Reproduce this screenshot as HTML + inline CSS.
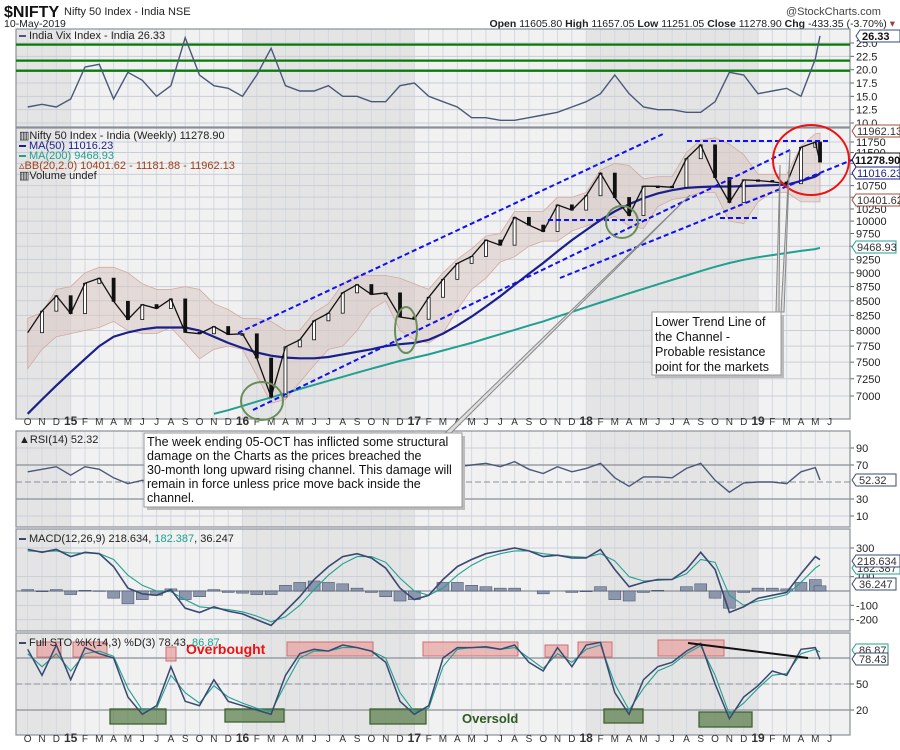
<!DOCTYPE html>
<html><head><meta charset="utf-8"><title>NIFTY chart</title>
<style>
html,body{margin:0;padding:0;background:#fff;}
svg{display:block;font-family:"Liberation Sans Narrow","Liberation Sans",sans-serif;}
</style></head>
<body>
<svg id="chart" width="900" height="750" viewBox="0 0 900 750" xmlns="http://www.w3.org/2000/svg">
<rect x="0" y="0" width="900" height="750" fill="#fff"/>
<text x="4" y="17" font-size="16" font-weight="bold" fill="#111">$NIFTY</text>
<text x="64" y="15" font-size="11" fill="#222">Nifty 50 Index - India NSE</text>
<text x="4" y="27" font-size="10.5" fill="#222">10-May-2019</text>
<text x="786" y="15" font-size="11" fill="#444">@StockCharts.com</text>
<text x="895" y="27" font-size="10.5" fill="#222" text-anchor="end"><tspan font-weight="bold">Open</tspan> 11605.80 <tspan font-weight="bold">High</tspan> 11657.05 <tspan font-weight="bold">Low</tspan> 11251.05 <tspan font-weight="bold">Close</tspan> 11278.90 <tspan font-weight="bold">Chg</tspan> -433.35 (-3.70%) <tspan fill="#a04040">▾</tspan></text>
<g id="layers"></g>
</svg>
<script>
// ---- data (monthly, Sep-2014 .. May-2019) ----
const monthIdx = [0,1,2,3,4,5,6,7,8,9,10,11,12,13,14,15,16,17,18,19,20,21,22,23,24,25,26,27,28,29,30,31,32,33,34,35,36,37,38,39,40,41,42,43,44,45,46,47,48,49,50,51,52,53,54,55,55.33];
const closeVals = [7965,8322,8588,8282,8808,8901,8491,8181,8434,8368,8532,7971,7948,8065,7935,7946,7563,6987,7738,7850,8160,8288,8639,8786,8611,8638,8224,8186,8561,8880,9174,9304,9621,9521,10077,9918,9789,10335,10227,10531,11028,10493,10114,10739,10736,10714,11357,11681,10930,10387,10877,10863,10831,10793,11624,11748,11279];
const ma50Vals = [6750,6950,7150,7350,7550,7750,7900,7970,8020,8050,8050,8050,8000,7900,7800,7720,7650,7600,7570,7560,7560,7580,7620,7660,7700,7750,7780,7800,7850,7950,8080,8230,8400,8580,8780,8980,9180,9400,9620,9820,10020,10200,10350,10480,10580,10650,10700,10720,10730,10730,10740,10750,10760,10770,10850,10950,11016];
const ma200Vals = [null,null,null,null,null,null,null,null,null,null,null,null,null,6750,6800,6860,6920,6980,7040,7100,7160,7220,7280,7340,7400,7460,7520,7570,7620,7680,7740,7800,7870,7940,8010,8080,8150,8230,8310,8390,8470,8550,8630,8710,8790,8870,8950,9030,9110,9180,9240,9290,9330,9370,9410,9445,9469];
const bbUpper = [8200,8300,8700,8750,9000,9100,9100,9000,8800,8700,8700,8750,8700,8450,8350,8200,8200,8150,8000,8000,8300,8450,8800,8950,8950,8950,8900,8800,8700,9000,9250,9450,9700,9750,10200,10200,10200,10500,10500,10600,11100,11250,11200,10900,10950,10950,11500,11800,11850,11700,11450,11000,11000,11000,11650,11950,11962];
const bbLower = [7400,7700,7900,7950,8000,8050,8150,8000,7950,7950,8050,7800,7550,7700,7750,7700,7300,6900,6950,7200,7450,7700,7750,8000,8350,8500,8000,7850,7800,7950,8350,8700,8900,9200,9300,9500,9600,9600,9800,9900,10000,10100,9900,9850,10300,10450,10500,10600,10600,10000,9950,10400,10600,10600,10400,10400,10401];
const vixVals = [13,13.5,13,14.5,20.5,21,14.5,19.5,18,15,17,26,19,17,16.5,15,19,24,17,16,16,17,15,15,14,14,17,17.5,15,14,13,11,11,10.5,10.5,11,11.5,12,13,14,15.5,19,15.5,13,12.5,12.5,12,12,14,19.5,19,15.5,16,16.5,15,22,26.33];
const rsiVals = [62,65,68,58,68,65,55,48,52,50,55,40,42,48,45,45,38,30,52,55,60,62,68,70,62,62,45,42,55,62,68,70,72,68,74,65,60,68,62,66,72,55,45,56,56,55,66,72,52,38,49,50,50,48,62,67,52.32];
const macdVals = [290,270,290,240,270,260,170,20,-20,-30,10,-120,-150,-110,-140,-160,-200,-240,-140,-40,80,170,240,260,230,160,20,-60,-30,80,170,220,260,280,300,280,240,250,230,230,290,150,30,60,80,80,150,270,150,-150,-110,-50,-30,-10,120,240,218.6];
const signalVals = [280,275,280,265,265,262,220,110,40,0,-5,-60,-110,-120,-130,-145,-175,-215,-180,-100,10,110,190,240,240,200,90,0,-30,20,110,180,230,260,280,280,260,250,240,235,260,210,100,70,75,80,120,220,200,-30,-100,-70,-50,-25,60,160,182.4];
const histVals = [10,-5,10,-25,5,-2,-50,-90,-60,-30,15,-60,-40,10,-10,-15,-25,-25,40,60,70,60,50,20,-10,-40,-70,-60,0,60,60,40,30,20,20,0,-20,0,-10,-5,30,-60,-70,-10,5,0,30,50,-50,-120,-10,20,20,15,60,80,36];
const stoK = [90,60,95,55,92,85,80,35,15,25,70,30,25,55,30,25,20,15,60,85,90,88,95,92,88,75,30,15,25,80,92,92,93,90,95,75,65,92,70,95,98,40,15,55,70,75,88,97,50,10,35,48,65,60,90,92,78.43];
const stoD = [85,70,85,65,85,88,82,45,20,22,60,40,28,48,35,28,22,18,50,80,88,88,92,92,88,80,40,18,22,70,90,92,92,90,92,80,68,85,75,90,95,50,20,45,65,72,85,94,60,15,28,45,60,62,85,90,86.87];
const monthLabels = ["O","N","D","15","F","M","A","M","J","J","A","S","O","N","D","16","F","M","A","M","J","J","A","S","O","N","D","17","F","M","A","M","J","J","A","S","O","N","D","18","F","M","A","M","J","J","A","S","O","N","D","19","F","M","A","M","J"];
const vixTicks = [10,12.5,15,17.5,20,22.5,25];
const priceTicks = [7000,7250,7500,7750,8000,8250,8500,8750,9000,9250,9500,9750,10000,10250,10500,10750,11000,11250,11500,11750];
const rsiTicks = [10,30,70,90];
const macdTicks = [-200,-100,0,100,300];
const stoTicks = [20,50];
const vixLevels = [24.7,21.7,19.8];

// ---- geometry ----
const L = 16, R = 850;
const NS = "http://www.w3.org/2000/svg";
const root = document.getElementById('layers');
function xM(m){ return 27.7 + m*14.32; }
function xD(i){ return xM(monthIdx[i]); }
function yVix(v){ return 123 - (v-10)*5.333; }
function yPx(v){ return 142 + Math.log(11750/v)*490.4; }
function yRsi(v){ return 465 + (70-v)*0.85; }
function yMacd(v){ return 591 - v*0.1433; }
function ySto(v){ return 684 - (v-50)*0.867; }
function mk(tag, attrs, parent){
  const e = document.createElementNS(NS, tag);
  for (const k in attrs) e.setAttribute(k, attrs[k]);
  (parent||root).appendChild(e);
  return e;
}
const panels = [
  {name:'vix', top:29, bot:127},
  {name:'price', top:128, bot:419},
  {name:'rsi', top:431, bot:527},
  {name:'macd', top:529, bot:631},
  {name:'sto', top:633, bot:735}
];
panels.forEach(p=>{
  const bg = mk('rect',{x:L,y:p.top,width:R-L,height:p.bot-p.top,fill:'#f1f1f1',stroke:'none'});
  
  
  [[-1,3],[15,27],[39,51]].forEach(b=>{
    const x1=Math.max(L,xM(b[0])), x2=xM(b[1]);
    const band = mk('rect',{x:x1,y:p.top,width:x2-x1,height:p.bot-p.top,fill:'#e4e4e4'});
    
    
  });
  for(let m=0;m<57;m++){
    const gl = mk('line',{x1:xM(m),x2:xM(m),y1:p.top,y2:p.bot,stroke:'#d3d9e2','stroke-width':1});
    
    
  }
});
function hgrid(ticks, yf, panel, labels){
  ticks.forEach(t=>{
    const y=yf(t);
    const g = mk('line',{x1:L,x2:R,y1:y,y2:y,stroke:'#c9ced6','stroke-width':1});
    
    
    mk('line',{x1:R,x2:R+4,y1:y,y2:y,stroke:'#666'});
    if(labels!==false){
      const tx = mk('text',{x:R+6,y:y+4,'font-size':11,fill:'#222'});
      tx.textContent = (panel==='vix') ? t.toFixed(1) : t;
      
      
    }
  });
}
hgrid(vixTicks, yVix, 'vix');
hgrid(priceTicks.filter(t=>t!==10500 && t!==11000 && t!==11250), yPx, 'price');
hgrid([10500,11000,11250], yPx, 'price', false);
hgrid(rsiTicks, yRsi, 'rsi');
hgrid([-200,-100,100,300], yMacd, 'macd');
hgrid(stoTicks, ySto, 'sto');
[[yRsi(50),'rsi-midline'],[ySto(50),'sto-midline']].forEach(a=>{
  const d = mk('line',{x1:L,x2:R,y1:a[0],y2:a[0],stroke:'#8a8f98','stroke-dasharray':'6,3'});
  
  
});
[[yRsi(70)],[yRsi(30)],[yMacd(0)],[ySto(80)],[ySto(20)]].forEach(a=>{
  const s = mk('line',{x1:L,x2:R,y1:a[0],y2:a[0],stroke:'#8a8f98','stroke-width':1.3});
  
  
});
panels.forEach(p=>{
  const b = mk('rect',{x:L,y:p.top,width:R-L,height:p.bot-p.top,fill:'none',stroke:'#8a8f98','stroke-width':1.2});
  
  
});
[425,742].forEach((yy,k)=>{
  monthLabels.forEach((lab,m)=>{
    const t = mk('text',{x:xM(m),y:yy,'font-size':lab.length>1?12:10,'font-weight':lab.length>1?'bold':'normal','text-anchor':'middle',fill:'#333'});
    t.textContent = lab;
    
    
  });
});
function path(vals, xf, yf){
  let d='', started=false;
  vals.forEach((v,i)=>{ if(v===null) return; d += (started?'L':'M')+xf(i).toFixed(1)+','+yf(v).toFixed(1); started=true; });
  return d;
}
vixLevels.forEach(v=>{
  const g = mk('line',{x1:L,x2:R,y1:yVix(v),y2:yVix(v),stroke:'#0a7a0a','stroke-width':2.2});
  
  
});
const vixLine = mk('path',{d:path(vixVals,xD,yVix),fill:'none',stroke:'#4a5878','stroke-width':1.4});


let bbD = path(bbUpper,xD,yPx);
for(let i=bbLower.length-1;i>=0;i--) bbD += 'L'+xD(i).toFixed(1)+','+yPx(bbLower[i]).toFixed(1);
const bb = mk('path',{d:bbD+'Z',fill:'#d9c6c3','fill-opacity':0.55,stroke:'#d4a9a0','stroke-width':0.8});


const ma200 = mk('path',{d:path(ma200Vals,xD,yPx),fill:'none',stroke:'#20a090','stroke-width':2});


const ma50 = mk('path',{d:path(ma50Vals,xD,yPx),fill:'none',stroke:'#1a1f8a','stroke-width':2.2});


closeVals.forEach((v,i)=>{
  if(i===0) return;
  const prev = closeVals[i-1];
  const bar = mk('rect',{x:xD(i)-1.5,y:Math.min(yPx(v),yPx(prev)),width:3,height:Math.max(1.5,Math.abs(yPx(v)-yPx(prev))),fill:v>=prev?'#fff':'#111',stroke:'#111','stroke-width':0.8});
  
  
});
const priceLine = mk('path',{d:path(closeVals,xD,yPx),fill:'none',stroke:'#111','stroke-width':1.3});


const rsiL = mk('path',{d:path(rsiVals,xD,yRsi),fill:'none',stroke:'#4a5878','stroke-width':1.4});


histVals.forEach((v,i)=>{
  const y0=yMacd(0), y1=yMacd(v);
  const hb = mk('rect',{x:xD(i)-6,y:Math.min(y0,y1),width:12,height:Math.abs(y1-y0),fill:'#8c97ad',stroke:'#3e4a66','stroke-width':0.5});
  
  
});
const sig = mk('path',{d:path(signalVals,xD,yMacd),fill:'none',stroke:'#20a090','stroke-width':1.1});


const mac = mk('path',{d:path(macdVals,xD,yMacd),fill:'none',stroke:'#3a4870','stroke-width':1.6});


[[37,642,24,15],[73,642,34,15],[166,647,10,14],[287,642,86,14],[423,642,95,14],[545,645,23,12],[578,642,34,15],[658,640,66,16]].forEach(b=>{
  const r = mk('rect',{x:b[0],y:b[1],width:b[2],height:b[3],fill:'#e89a9a','fill-opacity':0.65,stroke:'#d07070'});
  
  
});
[[110,709,56,15],[225,709,59,13],[370,709,56,15],[604,709,39,14],[699,712,53,15]].forEach(b=>{
  const r = mk('rect',{x:b[0],y:b[1],width:b[2],height:b[3],fill:'#5f8250','fill-opacity':0.75,stroke:'#3f6230','stroke-width':1.3});
  
  
});
const sd = mk('path',{d:path(stoD,xD,ySto),fill:'none',stroke:'#20a090','stroke-width':1.1});


const sk = mk('path',{d:path(stoK,xD,ySto),fill:'none',stroke:'#3a4870','stroke-width':1.5});


</script>
<svg style="position:absolute;left:0;top:0" width="900" height="750" viewBox="0 0 900 750" xmlns="http://www.w3.org/2000/svg" font-family="Liberation Sans Narrow, Liberation Sans, sans-serif">
  <g stroke="#1010ee" stroke-width="2" stroke-dasharray="5,3" fill="none">
    <line x1="238" y1="333" x2="663" y2="134"/>
    <line x1="253" y1="410" x2="790" y2="150"/>
    <line x1="560" y1="278" x2="852" y2="160"/>
    <line x1="687" y1="141" x2="828" y2="141"/>
    <line x1="548" y1="220" x2="647" y2="220"/>
    <line x1="720" y1="218" x2="757" y2="218"/>
  </g>
  <ellipse cx="262" cy="401" rx="21" ry="19" fill="none" stroke="#6a8e5a" stroke-width="2"/>
  <ellipse cx="406" cy="330" rx="11" ry="23" fill="none" stroke="#6a8e5a" stroke-width="2"/>
  <ellipse cx="622" cy="222" rx="16" ry="16" fill="none" stroke="#6a8e5a" stroke-width="2"/>
  <ellipse cx="811" cy="160" rx="38" ry="35" fill="none" stroke="#ee1111" stroke-width="2"/>
  <polygon points="444,434 450,434 690,195" fill="#ddd" stroke="#888"/>
  <polygon points="776,312 779,312 780,165" fill="#ddd" stroke="#888"/>
  <polygon points="781,312 784,312 790,150" fill="#ddd" stroke="#888"/>
  <rect x="147" y="436" width="318" height="74" fill="#bbb"/>
  <rect x="144" y="433" width="318" height="74" fill="#fff" stroke="#999"/>
  <text font-size="12.5" fill="#111">
    <tspan x="147" y="446">The week ending 05-OCT has inflicted some structural</tspan>
    <tspan x="147" y="460">damage on the Charts as the prices breached the</tspan>
    <tspan x="147" y="474">30-month long upward rising channel. This damage will</tspan>
    <tspan x="147" y="488">remain in force unless price move back inside the</tspan>
    <tspan x="147" y="502">channel.</tspan>
  </text>
  <rect x="655" y="315" width="129" height="63" fill="#bbb"/>
  <rect x="652" y="312" width="129" height="63" fill="#fff" stroke="#999"/>
  <text font-size="12.5" fill="#111" font-family="Liberation Sans, sans-serif">
    <tspan x="655" y="326">Lower Trend Line of</tspan>
    <tspan x="655" y="341">the Channel -</tspan>
    <tspan x="655" y="356">Probable resistance</tspan>
    <tspan x="655" y="371">point for the markets</tspan>
  </text>
  <line x1="688" y1="643" x2="808" y2="658" stroke="#111" stroke-width="2"/>
  <text x="186" y="654" font-size="14" font-weight="bold" fill="#ee1111">Overbought</text>
  <text x="462" y="723" font-size="13" font-weight="bold" fill="#2f5a20">Oversold</text>
  <g font-size="11">
    <rect x="19" y="35" width="7" height="2" fill="#4a5878"/>
    <text x="29" y="39" fill="#222">India Vix Index - India 26.33</text>
  </g>
  <g font-size="11">
    <text x="19" y="139" fill="#222">▥Nifty 50 Index - India (Weekly) 11278.90</text>
    <rect x="19" y="145" width="7" height="2" fill="#1a1f8a"/><text x="29" y="149" fill="#1a1f8a">MA(50) 11016.23</text>
    <rect x="19" y="155" width="7" height="2" fill="#20a090"/><text x="29" y="159" fill="#20a090">MA(200) 9468.93</text>
    <text x="19" y="169" fill="#a0401a">▵BB(20,2.0) 10401.62 - 11181.88 - 11962.13</text>
    <text x="19" y="179" fill="#222">▥Volume undef</text>
  </g>
  <text x="19" y="443" font-size="11" fill="#222">▲RSI(14) 52.32</text>
  <g font-size="11">
    <rect x="19" y="538" width="7" height="2" fill="#3a4870"/>
    <text x="29" y="542" fill="#222">MACD(12,26,9) 218.634, <tspan fill="#20a090">182.387</tspan>, 36.247</text>
  </g>
  <g font-size="11">
    <rect x="19" y="642" width="7" height="2" fill="#3a4870"/>
    <text x="29" y="646" fill="#222">Full STO %K(14,3) %D(3) 78.43, <tspan fill="#20a090">86.87</tspan></text>
  </g>
  <g font-size="11">
    <path d="M856,36 l4,-6 h40 v12 h-40z" fill="#fff" stroke="#3a4870"/><text x="862" y="40" font-weight="bold" fill="#111">26.33</text>
    <path d="M852,131 l4,-6 h44 v12 h-44z" fill="#fff" stroke="#a0503a"/><text x="857" y="135" fill="#333">11962.13</text>
    <path d="M852,160 l4,-7 h44 v14 h-44z" fill="#fff" stroke="#111"/><text x="855" y="164" font-weight="bold" fill="#111">11278.90</text>
    <path d="M852,173 l4,-6 h44 v12 h-44z" fill="#fff" stroke="#1a1f8a"/><text x="857" y="177" fill="#1a1f8a">11016.23</text>
    <path d="M852,200 l4,-6 h44 v12 h-44z" fill="#fff" stroke="#a0503a"/><text x="857" y="204" fill="#333">10401.62</text>
    <path d="M852,247 l4,-6 h40 v12 h-40z" fill="#fff" stroke="#20a090"/><text x="857" y="251" fill="#333">9468.93</text>
    <path d="M852,480 l4,-6 h40 v12 h-40z" fill="#fff" stroke="#3a4870"/><text x="859" y="484" fill="#333">52.32</text>
    <path d="M852,568 l4,-6 h44 v12 h-44z" fill="#fff" stroke="#20a090"/><text x="857" y="572" fill="#333">182.387</text>
    <path d="M852,561 l4,-6 h44 v12 h-44z" fill="#fff" stroke="#3a4870"/><text x="857" y="565" fill="#333">218.634</text>
    <path d="M852,584 l4,-6 h40 v12 h-40z" fill="#fff" stroke="#3a4870"/><text x="859" y="588" fill="#333">36.247</text>
    <path d="M852,650 l4,-6 h32 v12 h-32z" fill="#fff" stroke="#20a090"/><text x="859" y="654" fill="#333">86.87</text>
    <path d="M852,659 l4,-6 h32 v12 h-32z" fill="#fff" stroke="#3a4870"/><text x="859" y="663" fill="#333">78.43</text>
  </g>
</svg>
</body></html>
